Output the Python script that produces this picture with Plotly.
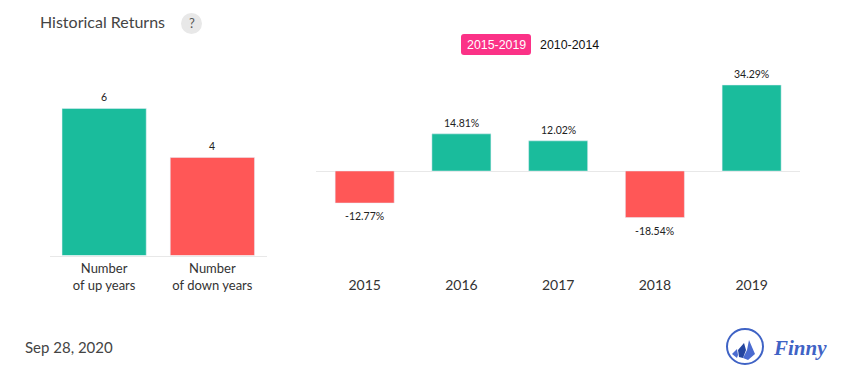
import plotly.graph_objects as go

W, H = 855, 382
counts_labels = ["Number<br>of up years", "Number<br>of down years"]
counts_values = [6, 4]
years = ["2015", "2016", "2017", "2018", "2019"]
returns = [-12.77, 14.81, 12.02, -18.54, 34.29]
return_labels = ["-12.77%", "14.81%", "12.02%", "-18.54%", "34.29%"]
UP, DOWN = "#1abc9c", "#ff5757"

def px(x): return x / W
def py(y): return 1 - y / H

fig = go.Figure()
fig.add_bar(x=counts_labels, y=counts_values, marker_color=[UP, DOWN], width=0.778,
            xaxis="x", yaxis="y", hoverinfo="skip")
fig.add_bar(x=years, y=returns, marker_color=[UP if v > 0 else DOWN for v in returns], width=0.61,
            xaxis="x2", yaxis="y2", hoverinfo="skip")

fig.update_layout(
    width=W, height=H, autosize=False, margin=dict(l=0, r=0, t=0, b=0),
    paper_bgcolor="white", plot_bgcolor="white", showlegend=False,
    font=dict(family="Lato", color="#333"),
    xaxis=dict(type="category", domain=[px(50), px(266.5)], showgrid=False, zeroline=False, showline=True,
               linecolor="#e8e8e8", linewidth=1, ticks="", tickfont=dict(family="Lato", size=13, color="#333"),
               anchor="y", range=[-0.5, 1.5], ticklabelstandoff=1),
    yaxis=dict(domain=[py(255.5), py(60)], range=[0, 195.5 / 24.5], visible=False, anchor="x"),
    xaxis2=dict(type="category", domain=[px(316.3), px(800)], showgrid=False, zeroline=False, showline=False,
                ticks="", tickfont=dict(family="Lato", size=14, color="#333"), anchor="y2", ticklabelstandoff=3,
                range=[-0.5, 4.5], categoryorder="array", categoryarray=years),
    yaxis2=dict(domain=[py(272), py(60)], range=[-101 / 2.508, 111 / 2.508], showgrid=False,
                zeroline=True, zerolinecolor="#e8e8e8", zerolinewidth=1,
                showticklabels=False, ticks="", showline=False, anchor="x2"),
)

LABEL_FONT = dict(family="Lato", size=10.5, color="#222")
for i, v in enumerate(counts_values):
    fig.add_annotation(xref="x", yref="y", x=i, y=v, text=str(v), showarrow=False, font=LABEL_FONT,
                       yanchor="bottom", yshift=5, borderpad=0)
for i, (v, t) in enumerate(zip(returns, return_labels)):
    fig.add_annotation(xref="x2", yref="y2", x=i, y=v, text=t, showarrow=False, font=LABEL_FONT,
                       yanchor="bottom" if v > 0 else "top", yshift=4 if v > 0 else -6, borderpad=0)

def note(x, y, text, size, color="#333", family="Lato", xanchor="left", **kw):
    fig.add_annotation(xref="paper", yref="paper", x=px(x), y=py(y), text=text, showarrow=False,
                       xanchor=xanchor, yanchor="middle", font=dict(family=family, size=size, color=color),
                       borderpad=0, **kw)

def paper_shape(**kw):
    fig.add_shape(xref="paper", yref="paper", layer="above", **kw)

note(39, 21.5, "Historical Returns", 16, "#444")
paper_shape(type="circle", x0=px(181), x1=px(202), y0=py(34), y1=py(13),
            fillcolor="#e8e8e8", line_width=0)
note(191.5, 23, "?", 13, "#555", xanchor="center")

x0, x1, y0, y1 = px(461), px(531), py(55), py(34)
rx, ry = 3 / W, 3 / H
paper_shape(type="path",
            path=f"M {x0+rx} {y1} L {x1-rx} {y1} Q {x1} {y1} {x1} {y1-ry} L {x1} {y0+ry} Q {x1} {y0} {x1-rx} {y0} "
                 f"L {x0+rx} {y0} Q {x0} {y0} {x0} {y0+ry} L {x0} {y1-ry} Q {x0} {y1} {x0+rx} {y1} Z",
            fillcolor="#fb3287", line_width=0)
note(496, 44.5, "2015-2019", 12.4, "white", "Liberation Sans", xanchor="center")
note(569.5, 44.5, "2010-2014", 12.4, "#111", "Liberation Sans", xanchor="center")

note(23.5, 347, "Sep 28, 2020", 15, "#444")

# Finny logo
paper_shape(type="circle", x0=px(727), x1=px(763), y0=py(364), y1=py(329),
            fillcolor="white", line=dict(color="#3f63c5", width=2))
def sail(pts, color):
    d = "M " + " L ".join(f"{px(a)} {py(b)}" for a, b in pts) + " Z"
    paper_shape(type="path", path=d, fillcolor=color, line_width=0)
sail([(749, 340), (755, 354), (748, 360), (743, 358), (747, 350)], "#4a6bd0")
sail([(744, 343), (746, 350), (743, 358), (739, 357), (738, 350)], "#24459f")
sail([(737, 349), (738, 355), (737, 358), (732, 354)], "#4a6bd0")
note(771.5, 348, "<b><i>Finny</i></b>", 21, "#3f63c5", "Liberation Serif")

fig.write_html("out.html", config=dict(displayModeBar=False),
               post_script="document.body.style.margin='0';")
